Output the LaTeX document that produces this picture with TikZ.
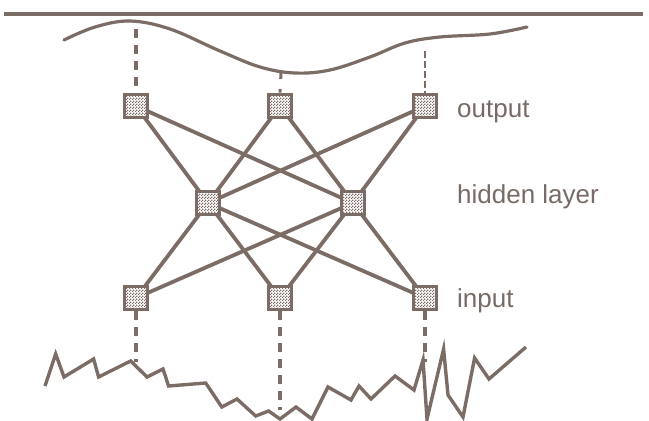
\documentclass[tikz,border=0pt]{standalone}
\usepackage{fontspec}
\setmainfont{Liberation Sans}
\usetikzlibrary{patterns}
\definecolor{ink}{HTML}{7B6D66}
\definecolor{txt}{HTML}{766B66}
\pgfdeclarepatternformonly{finecheck}{\pgfpointorigin}{\pgfqpoint{3pt}{3pt}}{\pgfqpoint{3pt}{3pt}}{%
  \pgfpathrectangle{\pgfpointorigin}{\pgfqpoint{1.5pt}{1.5pt}}%
  \pgfpathrectangle{\pgfqpoint{1.5pt}{1.5pt}}{\pgfqpoint{1.5pt}{1.5pt}}%
  \pgfusepath{fill}}
\begin{document}
\begin{tikzpicture}[x=1pt,y=-1pt,
  unit/.style={draw=ink,line width=3.8pt,preaction={fill=white},pattern=finecheck,pattern color=ink,minimum size=23pt,inner sep=0pt},
  link/.style={draw=ink,line width=3.8pt},
  probe/.style={draw=ink,line width=3.2pt,dash pattern=on 9pt off 7pt},
  signal/.style={draw=ink,line width=3.4pt,line join=miter},
  lab/.style={text=txt,font=\fontsize{26}{30}\selectfont,anchor=base west,inner sep=0pt}]
\useasboundingbox (0,0) rectangle (649,421);
% top line
\coordinate (tl) at (4,14);
\coordinate (tr) at (643,14);
\draw[ink,line width=3.4pt] (tl) -- (tr);
% nodes positions
\coordinate (po1) at (136,106);
\coordinate (po2) at (280,106);
\coordinate (po3) at (425,106);
\coordinate (ph1) at (208,203);
\coordinate (ph2) at (353,203);
\coordinate (pi1) at (136,298);
\coordinate (pi2) at (280,298);
\coordinate (pi3) at (425,298);
% links
\foreach \o in {po1,po2,po3}{\foreach \h in {ph1,ph2}{\draw[link] (\o) -- (\h);}}
\foreach \i in {pi1,pi2,pi3}{\foreach \h in {ph1,ph2}{\draw[link] (\i) -- (\h);}}
% units
\node[unit] (o1) at (po1) {};
\node[unit] (o2) at (po2) {};
\node[unit] (o3) at (po3) {};
\node[unit] (h1) at (ph1) {};
\node[unit] (h2) at (ph2) {};
\node[unit] (i1) at (pi1) {};
\node[unit] (i2) at (pi2) {};
\node[unit] (i3) at (pi3) {};
% labels
\node[lab] (lo) at (457,117) {output};
\node[lab] (lh) at (457,203) {hidden layer};
\node[lab] (li) at (457,307) {input};
% top curve
\draw[ink,line width=3.2pt,line cap=round] plot[smooth,tension=0.6] coordinates
 {(64,40) (95,27) (130,21) (170,29) (220,51) (260,67) (295,73) (330,70) (370,57) (405,43) (440,37) (490,34) (527,27)};
% top dashed probes
\coordinate (t1) at (136,29);
\coordinate (t2) at (281,73);
\coordinate (t3) at (425,51);
\draw[probe] (t1) -- (o1.north);
\draw[ink,line width=3pt,dash pattern=on 6pt off 10pt] (t2) -- (o2.north);
\draw[ink,line width=2pt,dash pattern=on 7pt off 3pt] (t3) -- (o3.north);
% bottom zigzag
\draw[signal] (45,386) -- (55.7,354) -- (64,377) -- (93.6,359) -- (98.6,377) -- (130.7,361) -- (147,377) -- (163,369) -- (168.6,386) -- (205.7,383) -- (221.8,407) -- (237,399) -- (255.7,416) -- (268.6,411) -- (280,419) -- (296,407) -- (312,419) -- (328,387) -- (351,400) -- (359,386) -- (371,399) -- (395,376) -- (414,390) -- (423,360) -- (427,419) -- (443.6,349) -- (448,395) -- (463,417) -- (474.6,358) -- (489,379) -- (526,347);
% bottom dashed probes
\coordinate (b1) at (136,362);
\coordinate (b2) at (280,410);
\coordinate (b3) at (425,362);
\draw[probe] (i1.south) -- (b1);
\draw[probe] (i2.south) -- (b2);
\draw[probe] (i3.south) -- (b3);
\end{tikzpicture}
\end{document}
